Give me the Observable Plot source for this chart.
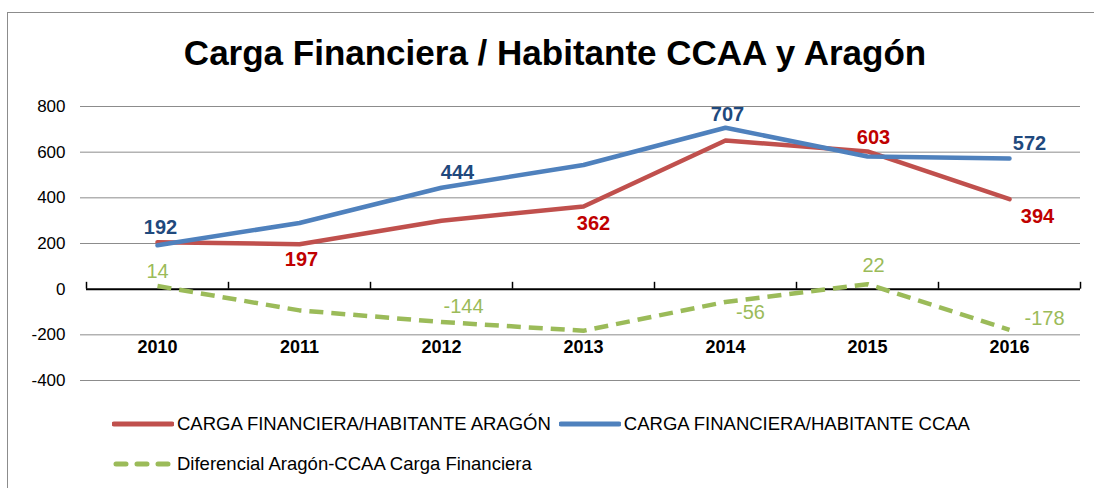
<!DOCTYPE html>
<html>
<head>
<meta charset="utf-8">
<script src="https://cdn.jsdelivr.net/npm/d3@7"></script>
<script src="https://cdn.jsdelivr.net/npm/@observablehq/plot@0.6"></script>
<style>
  body { margin: 0; background: #fff; width: 1094px; height: 488px; overflow: hidden; position: relative; font-family: "Liberation Sans", sans-serif; }
  #frame { position: absolute; left: 7px; top: 12px; width: 1200px; height: 600px; border: 1.5px solid #8c8c8c; box-sizing: border-box; }
  #title { position: absolute; left: 8px; top: 33px; width: 1094px; text-align: center; font-weight: bold; font-size: 35px; color: #000; }
  #chart { position: absolute; left: 0; top: 90px; }
  .legrow { position: absolute; left: 112px; display: flex; align-items: center; font-size: 18.5px; color: #000; white-space: nowrap; }
  .item { display: flex; align-items: center; margin-right: 8px; }
  .item svg { margin-right: 3px; }
</style>
</head>
<body>
<div id="frame"></div>
<div id="title">Carga Financiera / Habitante CCAA y Aragón</div>
<div id="chart"></div>
<div class="legrow" id="row1" style="top:413px;"></div>
<div class="legrow" id="row2" style="top:453px;"></div>
<script>
const years = [2010, 2011, 2012, 2013, 2014, 2015, 2016];
const aragon = [206, 197, 300, 362, 651, 603, 394];
const ccaa = [192, 290, 444, 544, 707, 581, 572];
const diferencial = [14, -93, -144, -182, -56, 22, -178];
const yTicks = [-400, -200, 0, 200, 400, 600, 800];
const seriesNames = ["CARGA FINANCIERA/HABITANTE ARAGÓN", "CARGA FINANCIERA/HABITANTE CCAA", "Diferencial Aragón-CCAA Carga Financiera"];
const labeledAragon = [2011, 2013, 2015, 2016];
const labeledCcaa = [2010, 2012, 2014, 2016];
const labeledDif = [2010, 2012, 2014, 2015, 2016];

const colors = { aragon: "#C0504D", ccaa: "#4F81BD", dif: "#9BBB59" };
const labelColors = { aragon: "#C00000", ccaa: "#1F497D", dif: "#9BBB59" };

const rows = (vals) => years.map((yr, i) => ({ year: yr, value: vals[i] }));
const dAr = rows(aragon), dCc = rows(ccaa), dDf = rows(diferencial);

// label placement (pixel offsets) per series and year
const place = {
  ccaa: { 2010: [3, -18], 2012: [16, -15], 2014: [2, -13], 2016: [20, -15] },
  aragon: { 2011: [2, 15], 2013: [10, 17], 2015: [6, -14], 2016: [28, 17] },
  dif: { 2010: [0, -14], 2012: [22, -15], 2014: [25, 11], 2015: [6, -19], 2016: [35, -11] }
};

function labelMarks(data, labeled, key) {
  return data.filter(d => labeled.includes(d.year)).map(d => Plot.text([d], {
    x: "year", y: "value", text: d => String(d.value),
    dx: place[key][d.year][0], dy: place[key][d.year][1],
    fill: labelColors[key], fontWeight: key === "dif" ? "normal" : "bold", fontSize: 20
  }));
}

const chart = Plot.plot({
  width: 1094,
  height: 300,
  marginTop: 16,
  marginBottom: 10,
  marginLeft: 80,
  marginRight: 14,
  insetLeft: 6,
  style: { fontFamily: "'Liberation Sans', sans-serif", fontSize: "17px", background: "transparent" },
  x: { type: "linear", domain: [2009.5, 2016.5], axis: null },
  y: { domain: [-400, 800], axis: null },
  marks: [
    Plot.ruleY(yTicks.filter(t => t !== 0), { stroke: "#8c8c8c", strokeWidth: 1 }),
    Plot.axisY(yTicks, { tickSize: 0, tickPadding: 15, fontSize: 17, fill: "#000", label: null, tickFormat: d => String(d) }),
    Plot.ruleY([0], { x1: 2009.5, x2: 2016.5, stroke: "#000", strokeWidth: 2 }),
    Plot.ruleX(d3.range(2009.5, 2017, 1), { y1: 0, y2: 30, stroke: "#000", strokeWidth: 1.5 }),
    Plot.text(years, { x: d => d, y: () => -200, dy: 12, text: d => String(d), fontWeight: "bold", fontSize: 18, fill: "#000" }),
    Plot.line(dDf, { x: "year", y: "value", stroke: colors.dif, strokeWidth: 4.5, strokeDasharray: "14,8", strokeLinecap: "butt" }),
    Plot.line(dAr, { x: "year", y: "value", stroke: colors.aragon, strokeWidth: 4.5 }),
    Plot.line(dCc, { x: "year", y: "value", stroke: colors.ccaa, strokeWidth: 4.5 }),
    ...labelMarks(dCc, labeledCcaa, "ccaa"),
    ...labelMarks(dAr, labeledAragon, "aragon"),
    ...labelMarks(dDf, labeledDif, "dif")
  ]
});
document.getElementById("chart").appendChild(chart);

function item(name, color, dash) {
  const s = `<svg width="62" height="8"><line x1="${dash ? 4 : 2}" x2="${dash ? 56 : 60}" y1="4" y2="4" stroke="${color}" stroke-width="5" stroke-linecap="round" ${dash ? 'stroke-dasharray="10,11"' : ''}/></svg>`;
  return `<div class="item">${s}<span>${name}</span></div>`;
}
document.getElementById("row1").innerHTML = item(seriesNames[0], colors.aragon, false) + item(seriesNames[1], colors.ccaa, false);
document.getElementById("row2").innerHTML = item(seriesNames[2], colors.dif, true);
</script>
</body>
</html>
